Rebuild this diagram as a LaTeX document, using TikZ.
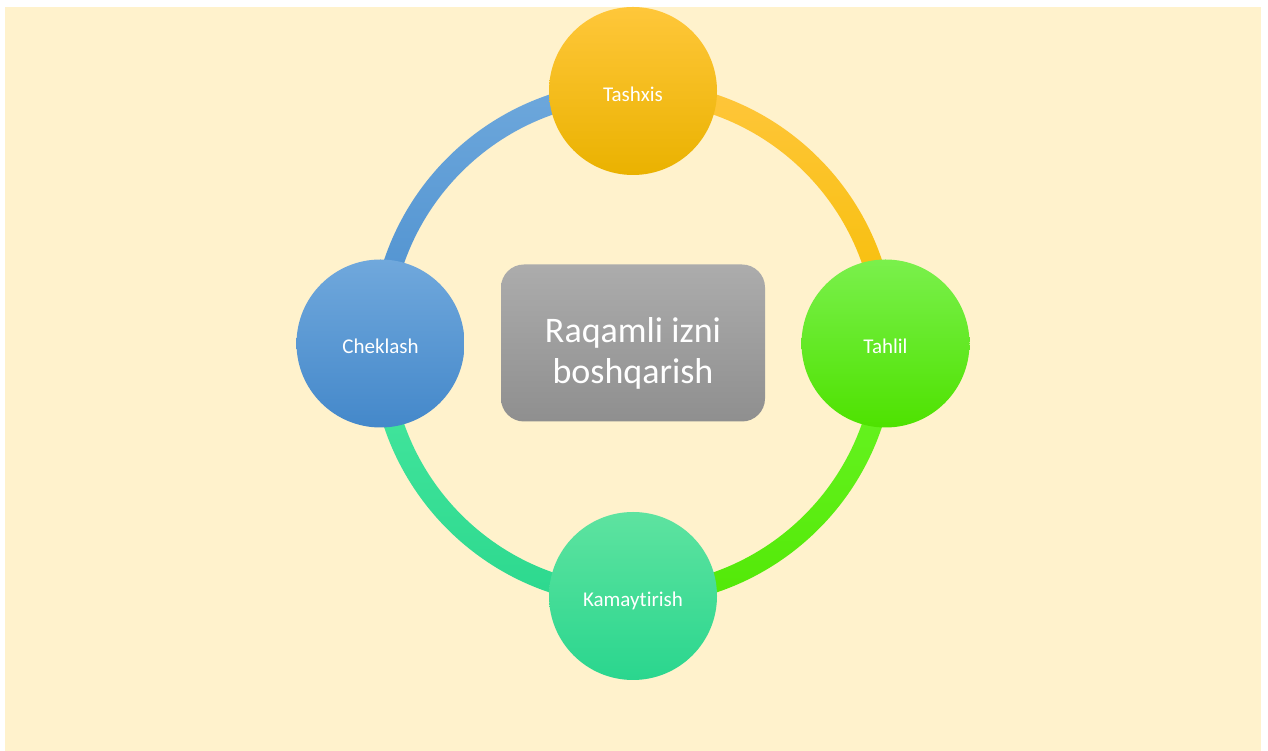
\documentclass[tikz,border=0pt]{standalone}
\usepackage{fontspec}
\setmainfont[Ligatures={NoCommon,NoRare,NoContextual}]{Carlito}
\usetikzlibrary{calc}
\definecolor{cream}{HTML}{FFF2CC}
\tikzset{
  circ/.style={circle, inner sep=0pt, minimum size=168pt, draw=none, text=white,
    font=\fontsize{21}{25}\selectfont, text height=21pt, text depth=0pt},
  ringseg/.style={draw=none},
}
\begin{document}
\begin{tikzpicture}[x=1pt,y=1pt]
\useasboundingbox (0,0) rectangle (1268,751);
\fill[white] (0,0) rectangle (1268,751);
\fill[cream] (5,0) rectangle (1261,744);
\coordinate (C) at (633,407.5);
% ring segments
\shade[ringseg, top color={rgb,255:red,255;green,198;blue,60}, bottom color={rgb,255:red,245;green,190;blue,0}]
  ([shift={(90:262.5pt)}]C) arc[start angle=90, end angle=0, radius=262.5pt]
  -- ([shift={(0:242.5pt)}]C) arc[start angle=0, end angle=90, radius=242.5pt] -- cycle;
\shade[ringseg, top color={rgb,255:red,108;green,246;blue,40}, bottom color={rgb,255:red,82;green,232;blue,6}]
  ([shift={(0:262.5pt)}]C) arc[start angle=0, end angle=-90, radius=262.5pt]
  -- ([shift={(-90:242.5pt)}]C) arc[start angle=-90, end angle=0, radius=242.5pt] -- cycle;
\shade[ringseg, top color={rgb,255:red,72;green,232;blue,160}, bottom color={rgb,255:red,44;green,216;blue,142}]
  ([shift={(-90:262.5pt)}]C) arc[start angle=-90, end angle=-180, radius=262.5pt]
  -- ([shift={(180:242.5pt)}]C) arc[start angle=180, end angle=270, radius=242.5pt] -- cycle;
\shade[ringseg, top color={rgb,255:red,110;green,168;blue,220}, bottom color={rgb,255:red,74;green,142;blue,206}]
  ([shift={(180:262.5pt)}]C) arc[start angle=180, end angle=90, radius=262.5pt]
  -- ([shift={(90:242.5pt)}]C) arc[start angle=90, end angle=180, radius=242.5pt] -- cycle;
% circles
\node[circ, top color={rgb,255:red,255;green,199;blue,58}, middle color={rgb,255:red,255;green,194;blue,0}, bottom color={rgb,255:red,234;green,178;blue,0}] (tashxis) at (633,660) {Tashxis};
\node[circ, top color={rgb,255:red,122;green,240;blue,76}, middle color={rgb,255:red,96;green,245;blue,22}, bottom color={rgb,255:red,78;green,226;blue,0}] (tahlil) at (885.5,407.5) {Tahlil};
\node[circ, top color={rgb,255:red,94;green,227;blue,160}, middle color={rgb,255:red,62;green,232;blue,155}, bottom color={rgb,255:red,42;green,214;blue,142}] (kamay) at (633,155) {Kamaytirish};
\node[circ, top color={rgb,255:red,112;green,168;blue,220}, middle color={rgb,255:red,92;green,155;blue,215}, bottom color={rgb,255:red,68;green,136;blue,202}] (cheklash) at (380.5,407.5) {Cheklash};
% center box
\node[rounded corners=23pt, minimum width=264pt, minimum height=157pt, inner sep=0pt,
  top color={rgb,255:red,172;green,172;blue,172}, bottom color={rgb,255:red,143;green,143;blue,143}] (box) at (633,408) {};
\node[text=white, align=center, font=\fontsize{36}{41}\selectfont, inner sep=0pt] (boxtext) at ($(box.center)+(0,-10)$) {Raqamli izni\\boshqarish};
\end{tikzpicture}
\end{document}
